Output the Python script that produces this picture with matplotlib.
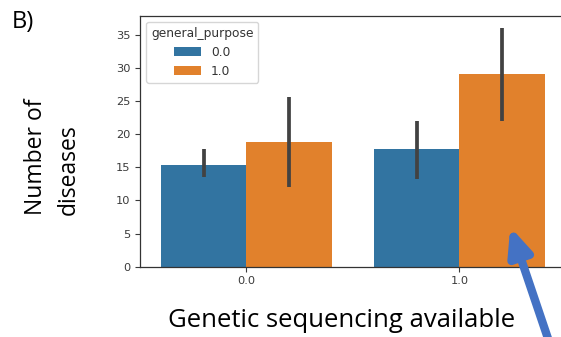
import matplotlib
matplotlib.use("Agg")
import matplotlib.pyplot as plt
import numpy as np

# data
groups = ["0.0", "1.0"]
hue_labels = ["0.0", "1.0"]
means = {"0.0": [15.4, 17.7], "1.0": [18.8, 29.1]}
ci_low = {"0.0": [13.5, 13.3], "1.0": [12.0, 22.0]}
ci_high = {"0.0": [17.7, 22.0], "1.0": [25.6, 36.1]}
colors = {"0.0": "#3274a1", "1.0": "#e1812c"}

fig = plt.figure(figsize=(5.61, 3.37), dpi=100)
fig.patch.set_facecolor("white")

# axes runs a little past the right edge, like the cropped original
ax = fig.add_axes([0.2496, 0.2086, 0.759, 0.7448])

x = np.arange(len(groups))
w = 0.4
for i, h in enumerate(hue_labels):
    pos = x - w / 2 + i * w
    ax.bar(pos, means[h], width=w, color=colors[h], label=h, zorder=2)
    ax.vlines(pos, ci_low[h], ci_high[h], color="#424242", lw=2.7, zorder=3)

ax.set_xlim(-0.5, 1.5)
ax.set_ylim(0, 37.9)
ax.set_xticks(x)
ax.set_xticklabels(groups)
ax.set_yticks(np.arange(0, 36, 5))
ax.tick_params(labelsize=8.2, colors="#3a3a3a", length=3.5, width=0.8)
for s in ax.spines.values():
    s.set_color("#333333")
    s.set_linewidth(0.9)

leg = ax.legend(title="general_purpose", loc="upper left", fontsize=8.8,
                title_fontsize=8.8, frameon=True, handlelength=2.2,
                borderaxespad=0.5)
for t in leg.get_texts():
    t.set_color("#333333")
leg.get_title().set_color("#333333")

big = "Open Sans"
fig.text(0.021, 0.917, "B)", fontsize=17, family=big, ha="left", va="baseline")
fig.text(0.094, 0.535, "Number of\ndiseases", fontsize=16.5, family=big,
         rotation=90, ha="center", va="center", multialignment="left",
         linespacing=1.5)
fig.text(0.608, 0.0297, "Genetic sequencing available", fontsize=18.5,
         family=big, ha="center", va="baseline")

# blue pointer arrow
ax.annotate("", xy=(1.239, 6.0), xycoords="data",
            xytext=(0.984, -0.04), textcoords="figure fraction",
            arrowprops=dict(arrowstyle="-|>,head_width=0.7,head_length=1.6",
                            color="#4472c4", lw=6, shrinkA=0, shrinkB=0),
            annotation_clip=False)

fig.savefig("out.png", dpi=100)
